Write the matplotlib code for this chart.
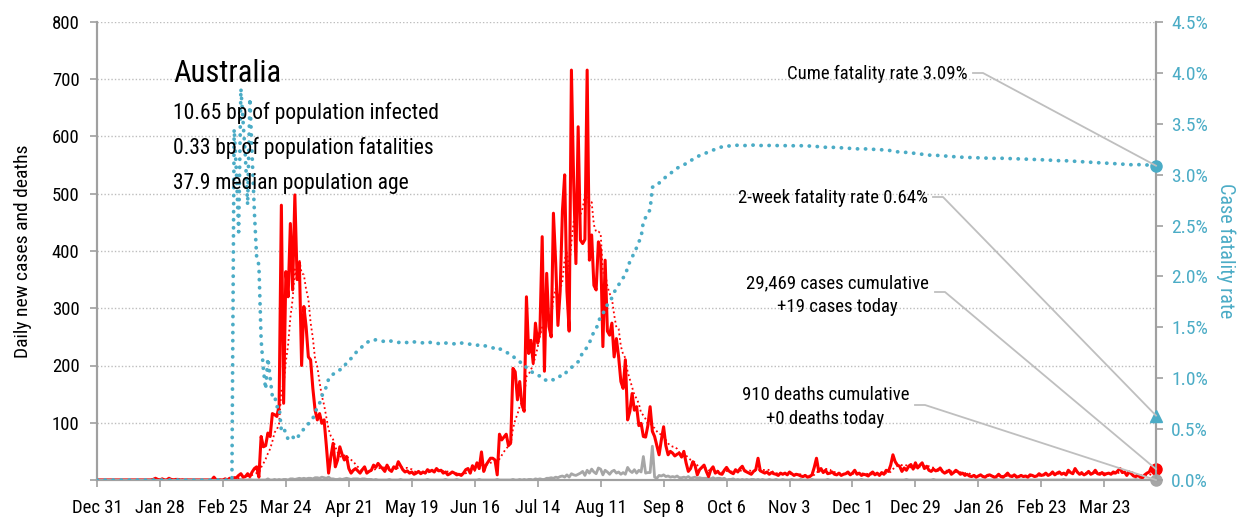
import numpy as np
import pandas as pd
import matplotlib
matplotlib.use("Agg")
import matplotlib.pyplot as plt
import matplotlib.dates as mdates
from matplotlib.lines import Line2D

plt.rcParams['font.family'] = ['Roboto Condensed', 'DejaVu Sans']

# Australia, daily new cases by month (first day Dec 31 2019)
cases_dec19 = [0]
cases_jan20 = [0, 0, 0, 0, 0, 0, 0, 0, 0, 0, 0, 0, 0, 0, 0, 0, 0, 0, 0, 0, 0, 0, 0, 0,
               1, 3, 1, 0, 2, 0, 0]
cases_feb20 = [3, 1, 0, 1, 1, 0, 0, 0, 0, 0, 0, 0, 0, 0, 0, 0, 0, 0, 0, 0,
               5, 0, 0, 0, 0, 2, 0, 3, 2]
cases_mar20 = [4, 4, 8, 11, 5, 6, 11, 6, 14, 20, 23, 5, 76, 58, 60, 82, 76, 116, 114, 111,
               130, 480, 134, 364, 320, 448, 332, 498, 350, 380, 200]
cases_apr20 = [303, 268, 215, 210, 160, 122, 105, 116, 99, 105, 60, 12, 40, 64, 23, 35, 58, 45, 35, 41,
               20, 12, 17, 20, 16, 12, 18, 23, 12, 15]
cases_may20 = [17, 26, 22, 29, 24, 20, 15, 26, 18, 15, 23, 20, 32, 25, 18, 14, 16, 12, 14, 10,
               12, 15, 11, 14, 12, 18, 15, 17, 14, 20, 16]
cases_jun20 = [17, 12, 14, 9, 11, 14, 12, 9, 10, 8, 12, 18, 20, 12, 25, 18, 30, 20, 49, 15,
               26, 32, 38, 38, 35, 9, 80, 70, 75, 80]
cases_jul20 = [60, 65, 195, 189, 140, 172, 131, 120, 320, 221, 244, 204, 274, 239, 260, 425, 190, 361, 268, 250,
               466, 380, 270, 330, 470, 533, 330, 260, 716, 520, 378]
cases_aug20 = [617, 419, 413, 420, 716, 384, 428, 340, 332, 416, 402, 233, 384, 260, 253, 274, 215, 247, 215, 172,
               160, 210, 105, 120, 151, 122, 128, 95, 99, 76, 75]
cases_sep20 = [95, 128, 85, 76, 60, 44, 70, 93, 60, 44, 50, 47, 42, 45, 47, 40, 50, 30, 15, 20,
               32, 25, 9, 18, 22, 26, 15, 6, 18, 23]
cases_oct20 = [12, 15, 11, 10, 17, 22, 16, 13, 11, 18, 14, 20, 24, 16, 14, 12, 10, 15, 18, 38,
               16, 14, 12, 14, 10, 13, 11, 10, 8, 12, 10]
cases_nov20 = [12, 9, 14, 11, 8, 10, 9, 7, 6, 8, 5, 6, 9, 22, 38, 15, 20, 13, 17, 11,
               12, 14, 10, 9, 12, 8, 10, 11, 14, 9]
cases_dec20 = [12, 17, 10, 12, 8, 10, 9, 7, 11, 14, 9, 12, 8, 13, 10, 17, 15, 26, 44, 32,
               26, 24, 15, 21, 17, 24, 27, 19, 30, 21, 26]
cases_jan21 = [30, 20, 24, 17, 15, 19, 16, 17, 21, 15, 12, 14, 17, 10, 13, 17, 14, 10, 12, 8,
               10, 7, 6, 8, 5, 7, 9, 6, 5, 8, 9]
cases_feb21 = [7, 5, 6, 10, 6, 5, 8, 12, 7, 6, 9, 5, 6, 8, 6, 7, 5, 9, 8, 6,
               7, 11, 8, 9, 12, 8, 10, 14]
cases_mar21 = [9, 12, 14, 10, 12, 9, 17, 13, 11, 20, 14, 10, 12, 9, 11, 15, 10, 12, 17, 11,
               10, 13, 9, 11, 12, 10, 14, 12, 16, 20, 13]
cases_apr21 = [14, 8, 14, 11, 7, 6, 8, 5, 4, 9, 12, 14, 23, 18, 19]

# daily deaths by month
deaths_dec19 = [0]
deaths_jan20 = [0, 0, 0, 0, 0, 0, 0, 0, 0, 0, 0, 0, 0, 0, 0, 0, 0, 0, 0, 0, 0, 0, 0, 0, 0, 0, 0, 0, 0, 0, 0]
deaths_feb20 = [0, 0, 0, 0, 0, 0, 0, 0, 0, 0, 0, 0, 0, 0, 0, 0, 0, 0, 0, 0, 0, 0, 0, 0, 0, 0, 0, 0, 0]
deaths_mar20 = [1, 0, 0, 1, 0, 0, 0, 1, 0, 0, 0, 0, 0, 0, 0, 2, 0, 0, 1, 0,
                1, 0, 1, 1, 0, 2, 2, 1, 2, 3, 2]
deaths_apr20 = [3, 2, 3, 3, 2, 4, 4, 3, 5, 4, 3, 5, 2, 2, 1, 1, 2, 1, 2, 3,
                2, 1, 2, 2, 2, 1, 2, 2, 1, 1]
deaths_may20 = [1, 0, 1, 0, 0, 0, 0, 0, 1, 0, 0, 0, 0, 1, 0, 0, 0, 0, 1, 0,
                0, 0, 0, 0, 0, 1, 0, 0, 0, 0, 0]
deaths_jun20 = [0, 0, 1, 0, 0, 0, 0, 1, 0, 0, 0, 0, 0, 0, 0, 0, 0, 1, 0, 0,
                0, 0, 0, 0, 0, 1, 0, 0, 0, 0]
deaths_jul20 = [0, 0, 1, 0, 0, 1, 0, 1, 0, 1, 1, 0, 2, 1, 2, 1, 1, 3, 3, 4,
                3, 5, 4, 6, 7, 5, 9, 5, 11, 9, 8]
deaths_aug20 = [10, 12, 15, 8, 17, 12, 19, 14, 11, 21, 19, 9, 17, 14, 10, 15, 17, 12, 14, 10,
                13, 10, 22, 16, 13, 18, 12, 17, 14, 41, 12]
deaths_sep20 = [13, 13, 59, 5, 3, 8, 7, 9, 6, 7, 5, 6, 5, 7, 4, 4, 5, 4, 6, 3,
                4, 5, 3, 4, 3, 3, 3, 3, 2, 4]
deaths_oct20 = [2, 3, 3, 2, 3, 0, 1, 1, 2, 0, 1, 0, 1, 0, 1, 0, 1, 1, 0, 1,
                0, 1, 0, 0, 1, 0, 0, 1, 0, 0, 1]
deaths_nov20 = [0, 0, 0, 1, 0, 0, 0, 1, 0, 0, 0, 0, 1, 0, 0, 0, 0, 0, 0, 1,
                0, 0, 0, 0, 0, 0, 0, 0, 0, 0]
deaths_dec20 = [0, 0, 0, 0, 1, 0, 0, 0, 0, 0, 0, 0, 0, 0, 0, 0, 0, 0, 0, 0,
                0, 0, 0, 0, 1, 0, 0, 0, 0, 0, 0]
deaths_jan21 = [0, 0, 0, 0, 0, 1, 0, 0, 0, 0, 0, 0, 0, 0, 0, 0, 0, 0, 0, 0,
                0, 0, 0, 0, 0, 0, 0, 0, 0, 0, 0]
deaths_feb21 = [0, 0, 1, 0, 0, 0, 0, 0, 0, 0, 0, 0, 0, 0, 0, 0, 0, 0, 0, 0,
                0, 0, 0, 0, 0, 0, 0, 0]
deaths_mar21 = [0, 0, 0, 0, 1, 0, 0, 0, 0, 0, 0, 0, 0, 0, 0, 0, 0, 0, 0, 0,
                0, 0, 0, 0, 0, 0, 0, 0, 0, 0, 0]
deaths_apr21 = [0, 0, 0, 0, 0, 1, 0, 0, 0, 0, 0, 0, 0, 0, 0]

stats_lines = ["10.65 bp of population infected",
               "0.33 bp of population fatalities",
               "37.9 median population age"]

cases = np.array(cases_dec19 + cases_jan20 + cases_feb20 + cases_mar20 + cases_apr20 + cases_may20
                 + cases_jun20 + cases_jul20 + cases_aug20 + cases_sep20 + cases_oct20 + cases_nov20
                 + cases_dec20 + cases_jan21 + cases_feb21 + cases_mar21 + cases_apr21)
deaths = np.array(deaths_dec19 + deaths_jan20 + deaths_feb20 + deaths_mar20 + deaths_apr20 + deaths_may20
                  + deaths_jun20 + deaths_jul20 + deaths_aug20 + deaths_sep20 + deaths_oct20 + deaths_nov20
                  + deaths_dec20 + deaths_jan21 + deaths_feb21 + deaths_mar21 + deaths_apr21)
dates = pd.date_range("2019-12-31", periods=len(cases), freq="D")

avg7 = pd.Series(cases).rolling(7, min_periods=1).mean()
cum_c = np.cumsum(cases)
cum_d = np.cumsum(deaths)
cfr = np.where(cum_c > 0, cum_d / np.maximum(cum_c, 1) * 100, 0)
two_week = deaths[-14:].sum() / cases[-14:].sum() * 100

W, H = 1244, 519
TEAL = '#4bacc6'
GREY = '#a6a6a6'
AXC = '#a0a0a0'

fig = plt.figure(figsize=(W / 100, H / 100), dpi=100)
ax = fig.add_axes([97 / W, 39 / H, (1156 - 97) / W, (480 - 22) / H])
ax2 = ax.twinx()

ax.plot(dates, deaths, color=GREY, lw=2, zorder=2)
ax.plot(dates, cases, color='red', lw=2.2, zorder=3)
ax.plot(dates, avg7, color='red', lw=1.3, ls=(0, (1, 1.6)), zorder=3)
ax2.plot(dates, cfr, color=TEAL, lw=2.7, ls=(0, (0.05, 2.1)), dash_capstyle='round', zorder=4)

ax.set_xlim(dates[0], dates[-1])
ax.set_ylim(0, 800)
ax2.set_ylim(0, 4.5)

ticks = dates[::28]
ax.set_xticks(ticks)
ax.set_xticklabels([f"{d:%b} {d.day}" for d in ticks], fontsize=13.5)
ax.set_yticks(range(0, 900, 100))
ax.set_yticklabels([''] + [str(v) for v in range(100, 900, 100)], fontsize=13.5)
ax2.set_yticks(np.arange(0, 4.51, 0.5))
ax2.set_yticklabels([f"{v:.1f}%" for v in np.arange(0, 4.51, 0.5)], fontsize=14, color=TEAL)
ax.yaxis.grid(True, ls=(0, (1, 1.5)), color='#bdbdbd', lw=1)
ax.set_axisbelow(True)

for a in (ax, ax2):
    a.spines['top'].set_visible(False)
    for s in ('left', 'right', 'bottom'):
        a.spines[s].set_color(AXC)
        a.spines[s].set_linewidth(1.5)
    a.tick_params(color=AXC, width=1.2, length=5)
ax.tick_params(axis='x', pad=9)
ax.tick_params(axis='y', pad=7.5)
ax2.tick_params(axis='y', pad=6)

ax.set_ylabel("Daily new cases and deaths", fontsize=14, labelpad=14)
ax2.set_ylabel("Case fatality rate", fontsize=14.5, color=TEAL, rotation=270, labelpad=20)

# end markers
last = dates[-1]
ax.plot(last, cases[-1], 'o', color='red', ms=8, clip_on=False, zorder=10)
ax.plot(last, deaths[-1], 'o', color=GREY, ms=8, clip_on=False, zorder=10)
ax2.plot(last, cfr[-1], 'o', color=TEAL, ms=8, clip_on=False, zorder=10)
ax2.plot(last, two_week, '^', color=TEAL, ms=9, clip_on=False, zorder=10)

# title block
fig.text(173 / W, 1 - 82 / H, "Australia", fontsize=22, va='baseline')
for i, line in enumerate(stats_lines):
    fig.text(173 / W, 1 - (119 + 35 * i) / H, line, fontsize=15.5, va='baseline')


def leader(x0, y0, target_ax, value):
    tx, ty = target_ax.transData.transform((mdates.date2num(last), value))
    fig.add_artist(Line2D([x0 / W, (x0 + 10) / W, tx / W], [1 - y0 / H, 1 - y0 / H, ty / H],
                          transform=fig.transFigure, color='#bfbfbf', lw=1.3, zorder=5))


fig.text(968 / W, 1 - 74 / H, "Cume fatality rate 3.09%", fontsize=13.5, ha='right', va='center')
leader(973, 73, ax2, cfr[-1])
fig.text(928 / W, 1 - 198 / H, "2-week fatality rate 0.64%", fontsize=13.5, ha='right', va='center')
leader(933, 197, ax2, two_week)
fig.text(929 / W, 1 - 295 / H, "29,469 cases cumulative\n+19 cases today", fontsize=13.5,
         ha='right', va='center', multialignment='center', linespacing=1.4)
leader(935, 292, ax, cases[-1])
fig.text(909 / W, 1 - 407 / H, "910 deaths cumulative\n+0 deaths today", fontsize=13.5,
         ha='right', va='center', multialignment='center', linespacing=1.4)
leader(915, 405, ax, deaths[-1])

fig.savefig("out.png", dpi=100)
